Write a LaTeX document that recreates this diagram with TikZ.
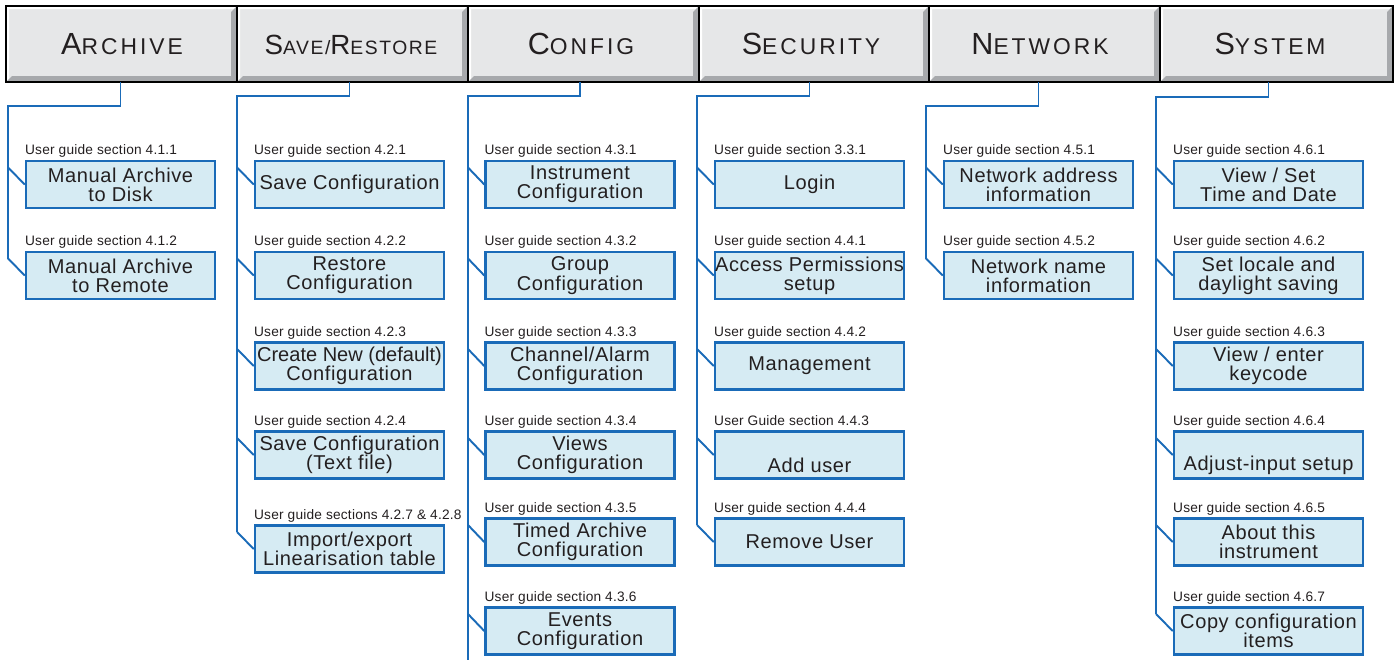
\documentclass[tikz,border=0pt]{standalone}
\usepackage{fontspec}
\setmainfont{Liberation Sans}
\newfontfamily\tabfont[LetterSpace=13]{Liberation Sans}
\newfontfamily\tabfontb[LetterSpace=8]{Liberation Sans}
\newfontfamily\boxfont[LetterSpace=3]{Liberation Sans}
\newfontfamily\notefont[LetterSpace=1.5]{Liberation Sans}
\usetikzlibrary{calc}
\definecolor{tabface}{HTML}{E6E7E8}
\definecolor{tabshade}{HTML}{A7A9AC}
\definecolor{linkblue}{HTML}{1A6BB8}
\definecolor{boxfill}{HTML}{D6EBF3}
\definecolor{inkgray}{HTML}{231F20}
\newcommand{\tabcap}[2]{{\fontsize{17.4}{17.4}\selectfont #1}{\fontsize{13}{13}\selectfont #2}}
\newcommand{\tabcapb}[2]{{\fontsize{15.8}{15.8}\selectfont #1}{\fontsize{11}{11}\selectfont #2}}
\tikzset{
  menubox/.style={draw=linkblue, line width=1.4pt, fill=boxfill, minimum width=3.78cm,
    minimum height=0.94cm, inner sep=0pt, align=center, text=inkgray,
    font=\boxfont\fontsize{11.4}{11}\selectfont},
  guide/.style={anchor=base west, inner sep=0pt, text=inkgray,
    font=\notefont\fontsize{7.8}{9}\selectfont},
  conn/.style={draw=linkblue, line width=1.1pt},
  tabhead/.style={minimum height=1.52cm, inner sep=0pt, text height=12.4pt,
    text depth=0pt, text=inkgray, font=\tabfont}
}
\begin{document}
\begin{tikzpicture}[x=0.02cm,y=-0.02cm]
\useasboundingbox (0,0) rectangle (1399,660);
% menu bar
\foreach \xl/\xr in {6/237,237/468,468/699,699/929,929/1160,1160/1393} {
  \fill[tabface] (\xl,6) rectangle (\xr,82);
  \fill[white] (\xl,6) -- (\xr,6) -- (\xr-3,9) -- (\xl+3,9) -- (\xl+3,79) -- (\xl,82) -- cycle;
  \fill[tabshade] (\xr,6) -- (\xr,82) -- (\xl,82) -- (\xl+6,76) -- (\xr-6,76) -- (\xr-6,12) -- cycle;
}
\draw[line width=1.6pt] (6,6) rectangle (1393,82);
\foreach \x in {237,468,699,929,1160}
  \draw[line width=1.6pt] (\x,6) -- (\x,82);
\node[tabhead] (arc) at (122,44) {\tabcap{A}{RCHIVE}};
\node[tabhead, font=\tabfontb] (sav) at (351,44) {\tabcapb{S}{AVE/}\tabcapb{R}{ESTORE}};
\node[tabhead] (cfg) at (581,44) {\tabcap{C}{ONFIG}};
\node[tabhead] (sec) at (811,44) {\tabcap{S}{ECURITY}};
\node[tabhead] (net) at (1040,44) {\tabcap{N}{ETWORK}};
\node[tabhead] (sys) at (1270,44) {\tabcap{S}{YSTEM}};

% archive
\node[menubox] (a1) at (120.5,184.5) {Manual Archive\\to Disk};
\node[menubox] (a2) at (120.5,275.5) {Manual Archive\\to Remote};
% save / restore
\node[menubox] (s1) at (349.5,184.5) {Save Configuration};
\node[menubox] (s2) at (349.5,275.5) {Restore\\Configuration};
\node[menubox] (s3) at (349.5,366) {\addfontfeature{LetterSpace=0}Create New (default)\\Configuration};
\node[menubox] (s4) at (349.5,455) {Save Configuration\\(Text file)};
\node[menubox] (s5) at (349.5,549) {Import/export\\Linearisation table};
% config
\node[menubox] (c1) at (580,184.5) {Instrument\\Configuration};
\node[menubox] (c2) at (580,275.5) {Group\\Configuration};
\node[menubox] (c3) at (580,366) {Channel/Alarm\\Configuration};
\node[menubox] (c4) at (580,455) {Views\\Configuration};
\node[menubox] (c5) at (580,542) {Timed Archive\\Configuration};
\node[menubox] (c6) at (580,631) {Events\\Configuration};
% security
\node[menubox] (e1) at (809.5,184.5) {Login};
\node[menubox] (e2) at (809.5,275.5) {Access Permissions\\setup};
\node[menubox] (e3) at (809.5,366) {Management};
\node[menubox] (e4) at (809.5,455) {\strut\\Add user};
\node[menubox] (e5) at (809.5,542) {Remove User};
% network
\node[menubox] (n1) at (1038.5,184.5) {Network address\\information};
\node[menubox] (n2) at (1038.5,275.5) {Network name\\information};
% system
\node[menubox] (y1) at (1268.5,184.5) {View / Set\\Time and Date};
\node[menubox] (y2) at (1268.5,275.5) {Set locale and\\daylight saving};
\node[menubox] (y3) at (1268.5,366) {View / enter\\keycode};
\node[menubox] (y4) at (1268.5,455) {\strut\\Adjust-input setup};
\node[menubox] (y5) at (1268.5,542) {About this\\instrument};
\node[menubox] (y6) at (1268.5,631) {Copy configuration\\items};

% section notes
\foreach \b/\t in {a1/User guide section 4.1.1, a2/User guide section 4.1.2,
    s1/User guide section 4.2.1, s2/User guide section 4.2.2, s3/User guide section 4.2.3,
    s4/User guide section 4.2.4, s5/User guide sections 4.2.7 \& 4.2.8,
    c1/User guide section 4.3.1, c2/User guide section 4.3.2, c3/User guide section 4.3.3,
    c4/User guide section 4.3.4, c5/User guide section 4.3.5, c6/User guide section 4.3.6,
    e1/User guide section 3.3.1, e2/User guide section 4.4.1, e3/User guide section 4.4.2,
    e4/User Guide section 4.4.3, e5/User guide section 4.4.4,
    n1/User guide section 4.5.1, n2/User guide section 4.5.2,
    y1/User guide section 4.6.1, y2/User guide section 4.6.2, y3/User guide section 4.6.3,
    y4/User guide section 4.6.4, y5/User guide section 4.6.5, y6/User guide section 4.6.7}
  \node[guide] (\b g) at ($(\b.north west)+(0,-5)$) {\t};

% trunks
\coordinate (arcv) at (8,106);
\coordinate (savv) at (237,96);
\coordinate (cfgv) at (468,96);
\coordinate (secv) at (697,96);
\coordinate (netv) at (926,106);
\coordinate (sysv) at (1156,97);
\coordinate (cfgend) at (468,660);
\draw[conn] (a1.north |- arc.south) |- (arcv) -- ($(arcv |- a2.west)+(0,-17)$);
\draw[conn] (s1.north |- sav.south) |- (savv) -- ($(savv |- s5.west)+(0,-17)$);
\draw[conn] (c1.north |- cfg.south) |- (cfgv) -- (cfgend);
\draw[conn] (e1.north |- sec.south) |- (secv) -- ($(secv |- e5.west)+(0,-17)$);
\draw[conn] (n1.north |- net.south) |- (netv) -- ($(netv |- n2.west)+(0,-17)$);
\draw[conn] (y1.north |- sys.south) |- (sysv) -- ($(sysv |- y6.west)+(0,-17)$);

% branches
\foreach \b in {a1,a2} \draw[conn] ($(arcv |- \b.west)+(0,-17)$) -- (\b.west);
\foreach \b in {s1,s2,s3,s4,s5} \draw[conn] ($(savv |- \b.west)+(0,-17)$) -- (\b.west);
\foreach \b in {c1,c2,c3,c4,c5,c6} \draw[conn] ($(cfgv |- \b.west)+(0,-17)$) -- (\b.west);
\foreach \b in {e1,e2,e3,e4,e5} \draw[conn] ($(secv |- \b.west)+(0,-17)$) -- (\b.west);
\foreach \b in {n1,n2} \draw[conn] ($(netv |- \b.west)+(0,-17)$) -- (\b.west);
\foreach \b in {y1,y2,y3,y4,y5,y6} \draw[conn] ($(sysv |- \b.west)+(0,-17)$) -- (\b.west);
\end{tikzpicture}
\end{document}
